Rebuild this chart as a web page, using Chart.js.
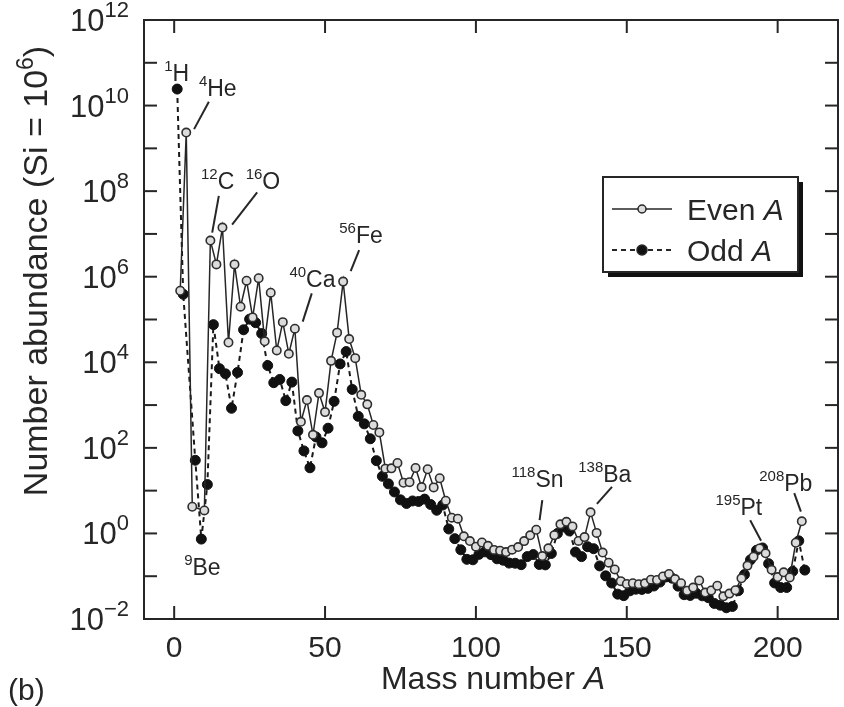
<!DOCTYPE html>
<html>
<head>
<meta charset="utf-8">
<script src="https://cdn.jsdelivr.net/npm/chart.js@4.4.0/dist/chart.umd.min.js"></script>
<style>
  html, body { margin: 0; padding: 0; background: #fff; }
</style>
</head>
<body>
<canvas id="chart" width="844" height="707"></canvas>
<script>
// --- data: solar-system abundance per mass number (Si = 1e6) ---
const evenA = [2, 4, 6, 10, 12, 14, 16, 18, 20, 22, 24, 26, 28, 30, 32, 34, 36, 38, 40, 42, 44, 46, 48, 50,
  52, 54, 56, 58, 60, 62, 64, 66, 68, 70, 72, 74, 76, 78, 80, 82, 84, 86, 88, 90, 92, 94, 96, 98, 100,
  102, 104, 106, 108, 110, 112, 114, 116, 118, 120, 122, 124, 126, 128, 130, 132, 134, 136, 138, 140,
  142, 144, 146, 148, 150, 152, 154, 156, 158, 160, 162, 164, 166, 168, 170, 172, 174, 176, 178, 180,
  182, 184, 186, 188, 190, 192, 194, 196, 198, 200, 202, 204, 206, 208];
const evenAbund = [4.7e5, 2.34e9, 4.2, 3.45, 7.0e6, 1.94e6, 1.41e7, 2.9e4, 1.94e6, 1.99e5, 8.06e5, 1.12e5,
  9.22e5, 3.09e4, 4.23e5, 1.89e4, 8.67e4, 1.58e4, 6.1e4, 407, 1311, 202, 1903, 685,
  1.08e4, 4.93e4, 7.69e5, 3.49e4, 1.25e4, 1737, 1039, 342, 230, 32.7, 33.2, 44.3, 15.3, 15.8, 33.9, 12.1,
  31.6, 11.9, 19.5, 5.83, 2.33, 2.21, 0.856, 0.663, 0.49,
  0.614, 0.514, 0.412, 0.394, 0.366, 0.418, 0.48, 0.661, 0.904, 1.22, 0.296, 0.449, 0.912, 1.63, 1.87,
  1.46, 0.668, 0.821, 3.12, 1.03,
  0.357, 0.207, 0.144, 0.0767, 0.0659, 0.0687, 0.065, 0.0682, 0.0829, 0.0816, 0.0989, 0.113, 0.0858,
  0.0687, 0.0457, 0.0542, 0.0794, 0.0415, 0.0463, 0.0598,
  0.0338, 0.0392, 0.047, 0.0892, 0.177, 0.285, 0.446, 0.343, 0.141, 0.0954, 0.1233, 0.0935, 0.605, 1.92];

const oddA = [1, 3, 7, 9, 11, 13, 15, 17, 19, 21, 23, 25, 27, 29, 31, 33, 35, 37, 39, 41, 43, 45, 47, 49,
  51, 53, 55, 57, 59, 61, 63, 65, 67, 69, 71, 73, 75, 77, 79, 81, 83, 85, 87, 89, 91, 93, 95, 97, 99,
  101, 103, 105, 107, 109, 111, 113, 115, 117, 119, 121, 123, 125, 127, 129, 131, 133, 135, 137, 139,
  141, 143, 145, 147, 149, 151, 153, 155, 157, 159, 161, 163, 165, 167, 169, 171, 173, 175, 177, 179,
  181, 183, 185, 187, 189, 191, 193, 195, 197, 199, 201, 203, 205, 207, 209];
const oddAbund = [2.43e10, 3.89e5, 51.3, 0.737, 13.9, 7.58e4, 7.1e3, 5370, 841, 5800, 5.75e4, 1.02e5,
  8.41e4, 4.69e4, 8373, 3337, 3968, 1269, 3443, 249, 84.9, 34.2, 180, 131,
  288, 1222, 9168, 1.78e4, 2323, 545, 364, 163, 50.3, 21.6, 14.4, 9.32, 6.09, 5.02, 5.74, 5.58, 6.34,
  4.74, 3.48, 4.61, 1.27, 0.755, 0.414, 0.248, 0.242,
  0.324, 0.371, 0.32, 0.255, 0.237, 0.203, 0.201, 0.186, 0.287, 0.321, 0.188, 0.184, 0.34, 0.998, 1.42,
  1.14, 0.367, 0.287, 0.489, 0.44,
  0.174, 0.102, 0.0693, 0.0381, 0.0351, 0.0455, 0.0497, 0.0491, 0.052, 0.0591, 0.073, 0.0962, 0.0899,
  0.0586, 0.037, 0.0355, 0.0401, 0.0348, 0.0316, 0.0231,
  0.021, 0.0183, 0.0196, 0.046, 0.109, 0.241, 0.404, 0.458, 0.196, 0.0696, 0.0544, 0.0545, 0.13, 0.67, 0.139];

const xTicks = [0, 50, 100, 150, 200];
const yLabelExps = [-2, 0, 2, 4, 6, 8, 10, 12];
const yTickExps = [-2, -1, 0, 1, 2, 3, 4, 5, 6, 7, 8, 9, 10, 11, 12];

// isotope labels: text anchor (A, log10 abundance) and leader line ends
const isoLabels = [
  { sup: '1', name: 'H', A: -3.3, lg: 10.57 },
  { sup: '4', name: 'He', A: 8.2, lg: 10.22, line: [11.5, 10.09, 6.6, 9.45] },
  { sup: '12', name: 'C', A: 8.9, lg: 8.05, line: [14.8, 7.89, 12.6, 7.03] },
  { sup: '16', name: 'O', A: 23.7, lg: 8.05, line: [27.5, 7.97, 19.2, 7.22] },
  { sup: '40', name: 'Ca', A: 38.2, lg: 5.76, line: [45.6, 5.61, 42.6, 4.95] },
  { sup: '56', name: 'Fe', A: 54.7, lg: 6.79, line: [61.3, 6.62, 58.5, 6.13] },
  { sup: '9', name: 'Be', A: 3.3, lg: -0.97 },
  { sup: '118', name: 'Sn', A: 111.8, lg: 1.08, line: [122.0, 0.78, 121.1, 0.31] },
  { sup: '138', name: 'Ba', A: 133.9, lg: 1.20, line: [145.1, 1.09, 140.1, 0.69] },
  { sup: '195', name: 'Pt', A: 179.4, lg: 0.43, line: [190.9, 0.31, 194.5, -0.17] },
  { sup: '208', name: 'Pb', A: 193.9, lg: 1.00, line: [205.5, 0.94, 207.7, 0.51] }
];

const FONT = '"Liberation Sans", Arial, Helvetica, sans-serif';
const INK = '#262626';

function fontOf(p) {
  return (p.italic ? 'italic ' : '') + p.size + 'px ' + FONT;
}

// draw a run of text pieces (used for superscripts)
function drawRich(ctx, parts, x, y, align) {
  let w = 0;
  parts.forEach(p => {
    ctx.font = fontOf(p);
    p.w = ctx.measureText(p.t).width;
    w += p.w;
  });
  let cx = align === 'right' ? x - w : align === 'center' ? x - w / 2 : x;
  parts.forEach(p => {
    ctx.font = fontOf(p);
    ctx.fillText(p.t, cx, y - (p.rise || 0));
    cx += p.w;
  });
}

function line(ctx, x1, y1, x2, y2) {
  ctx.beginPath();
  ctx.moveTo(x1, y1);
  ctx.lineTo(x2, y2);
  ctx.stroke();
}

const decorPlugin = {
  id: 'decor',
  afterDatasetsDraw(chart) {
    const ctx = chart.ctx;
    const a = chart.chartArea;
    const xs = chart.scales.x;
    const ys = chart.scales.y;
    ctx.save();
    ctx.strokeStyle = INK;
    ctx.fillStyle = INK;
    ctx.lineWidth = 2;
    ctx.setLineDash([]);
    ctx.textBaseline = 'alphabetic';

    // frame
    ctx.strokeRect(a.left, a.top, a.right - a.left, a.bottom - a.top);

    // inward ticks
    const tl = 13;
    yTickExps.forEach(e => {
      const py = ys.getPixelForValue(Math.pow(10, e));
      line(ctx, a.left, py, a.left + tl, py);
      line(ctx, a.right, py, a.right - tl, py);
    });
    xTicks.forEach(v => {
      const px = xs.getPixelForValue(v);
      line(ctx, px, a.bottom, px, a.bottom - tl);
      line(ctx, px, a.top, px, a.top + tl);
    });

    // tick labels
    yLabelExps.forEach(e => {
      const py = ys.getPixelForValue(Math.pow(10, e));
      const s = e < 0 ? '\u2212' + (-e) : String(e);
      drawRich(ctx, [{ t: '10', size: 31 }, { t: s, size: 22, rise: 14 }], 129, py + 11, 'right');
    });
    xTicks.forEach(v => {
      const px = xs.getPixelForValue(v);
      drawRich(ctx, [{ t: String(v), size: 30 }], px, 657, 'center');
    });

    // axis titles
    drawRich(ctx, [{ t: 'Mass number ', size: 32 }, { t: 'A', size: 32, italic: true }], 493, 689, 'center');
    drawRich(ctx, [{ t: '(b)', size: 30 }], 8, 700, 'left');
    ctx.save();
    ctx.translate(47, 271);
    ctx.rotate(-Math.PI / 2);
    drawRich(ctx, [
      { t: 'Number abundance (Si = 10', size: 34 },
      { t: '6', size: 23, rise: 14 },
      { t: ')', size: 34 }
    ], 0, 0, 'center');
    ctx.restore();

    // isotope labels and leader lines
    ctx.lineWidth = 2;
    isoLabels.forEach(l => {
      const px = xs.getPixelForValue(l.A);
      const py = ys.getPixelForValue(Math.pow(10, l.lg));
      drawRich(ctx, [{ t: l.sup, size: 15, rise: 10 }, { t: l.name, size: 23 }], px, py, 'left');
      if (l.line) {
        line(ctx, xs.getPixelForValue(l.line[0]), ys.getPixelForValue(Math.pow(10, l.line[1])),
          xs.getPixelForValue(l.line[2]), ys.getPixelForValue(Math.pow(10, l.line[3])));
      }
    });

    // legend box with drop shadow
    const bx = 603, by = 177, bw = 195, bh = 95;
    ctx.fillStyle = '#111';
    ctx.fillRect(bx + 5, by + 5, bw, bh);
    ctx.fillStyle = '#fff';
    ctx.fillRect(bx, by, bw, bh);
    ctx.strokeStyle = INK;
    ctx.lineWidth = 2;
    ctx.strokeRect(bx, by, bw, bh);

    const rows = [
      { y: 209, dash: [], lw: 1.5, fill: '#dcdcdc', r: 4, label: 'Even ' },
      { y: 250, dash: [5, 4], lw: 2, fill: '#111', r: 5, label: 'Odd ' }
    ];
    rows.forEach(r => {
      ctx.setLineDash(r.dash);
      ctx.lineWidth = r.lw;
      ctx.strokeStyle = INK;
      line(ctx, 612, r.y, 672, r.y);
      ctx.setLineDash([]);
      ctx.beginPath();
      ctx.arc(642, r.y, r.r, 0, Math.PI * 2);
      ctx.fillStyle = r.fill;
      ctx.fill();
      ctx.lineWidth = 1.5;
      ctx.stroke();
      ctx.fillStyle = INK;
      drawRich(ctx, [{ t: r.label, size: 30 }, { t: 'A', size: 30, italic: true }], 687, r.y + 11, 'left');
    });

    ctx.restore();
  }
};

const toPoints = (xsArr, ysArr) => xsArr.map((x, i) => ({ x: x, y: ysArr[i] }));

new Chart(document.getElementById('chart'), {
  type: 'scatter',
  data: {
    datasets: [
      {
        label: 'Even A',
        data: toPoints(evenA, evenAbund),
        showLine: true,
        borderColor: INK,
        borderWidth: 1.5,
        pointRadius: 4.2,
        pointBorderWidth: 1.6,
        pointBackgroundColor: '#dcdcdc',
        pointBorderColor: '#2e2e2e'
      },
      {
        label: 'Odd A',
        data: toPoints(oddA, oddAbund),
        showLine: true,
        borderColor: '#1a1a1a',
        borderWidth: 2,
        borderDash: [5, 4],
        pointRadius: 5,
        pointBorderWidth: 1,
        pointBackgroundColor: '#111',
        pointBorderColor: '#111'
      }
    ]
  },
  options: {
    responsive: false,
    devicePixelRatio: 1,
    animation: false,
    layout: { padding: { left: 144, right: 3, top: 20, bottom: 88 } },
    plugins: {
      legend: { display: false },
      tooltip: { enabled: false }
    },
    scales: {
      x: { type: 'linear', min: -10, max: 220, display: false },
      y: { type: 'logarithmic', min: 1e-2, max: 1e12, display: false }
    }
  },
  plugins: [decorPlugin]
});
</script>
</body>
</html>
